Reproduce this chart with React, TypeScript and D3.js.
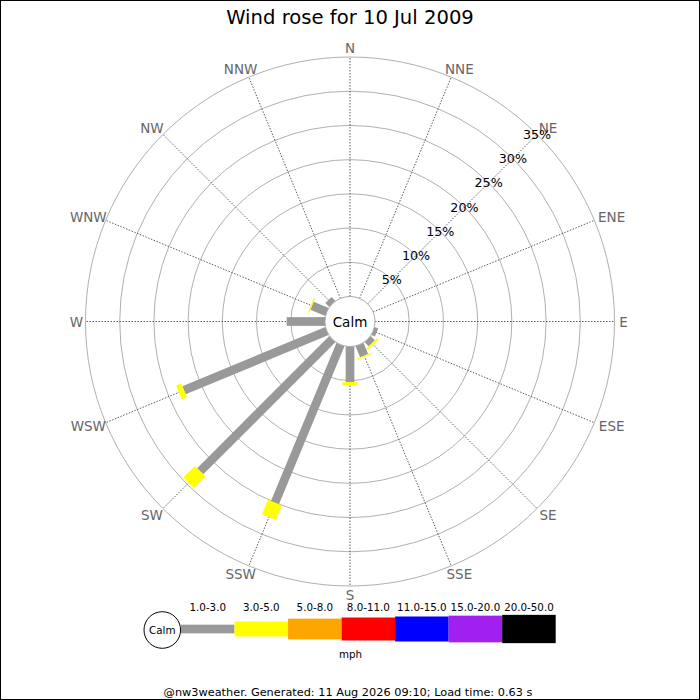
import React from "react";
import * as d3 from "d3";

const directions = ["N","NNE","NE","ENE","E","ESE","SE","SSE","S","SSW","SW","WSW","W","WNW","NW","NNW"];
// percentage of time per direction, by speed range
const range1to3 = [0,0,0,0,0,0.55,0.85,1.75,5.2,25.0,27.3,22.6,5.6,2.35,0.8,0];
const range3to5 = [0,0,0,0,0,0,0.3,0.2,0.5,2.3,2.4,0.8,0,0.2,0,0];
const seriesValues = [range1to3, range3to5];
const ringTicks = [5,10,15,20,25,30,35];
const legendRanges = ["1.0-3.0","3.0-5.0","5.0-8.0","8.0-11.0","11.0-15.0","15.0-20.0","20.0-50.0"];
const legendColors = ["#999999","#ffff00","#ffa500","#ff0000","#0000ff","#a020f0","#000000"];
const title = "Wind rose for 10 Jul 2009";
const footer = "@nw3weather. Generated: 11 Aug 2026 09:10; Load time: 0.63 s";

const W = 700, H = 700;
const cx = 350, cy = 321.5;
const calmR = 25;
const barWidths = [8.7, 15, 20.7, 23, 25, 26.7, 28.3];
const font = "'DejaVu Sans', sans-serif";

export default function App() {
  const r = d3.scaleLinear().domain([0, 35]).range([calmR, 264.5]);
  const angle = d3.scaleLinear().domain([0, directions.length]).range([0, 360]);
  const rad = (deg: number) => (deg * Math.PI) / 180;

  const bars: React.ReactNode[] = [];
  directions.forEach((d, i) => {
    let cum = 0;
    seriesValues.forEach((s, k) => {
      const v = s[i];
      if (v > 0) {
        const r0 = r(cum), r1 = r(cum + v);
        bars.push(
          <g key={`b-${i}-${k}`} transform={`translate(${cx},${cy}) rotate(${angle(i)})`}>
            <rect x={-barWidths[k] / 2} y={-r1} width={barWidths[k]} height={r1 - r0} fill={legendColors[k]} />
          </g>
        );
      }
      cum += v;
    });
  });

  const legX = d3.scaleBand().domain(legendRanges).range([181, 555.7]);
  const legY = 629;

  return (
    <svg width={W} height={H} style={{ position: "absolute", left: 0, top: 0, fontFamily: font }}>
      <rect x={0.5} y={0.5} width={W - 1} height={H - 1} fill="#fff" stroke="#000" />
      <text x={350} y={17} textAnchor="middle" dominantBaseline="central" fontSize={19.6} fill="#000">{title}</text>

      {ringTicks.map(t => (
        <circle key={`ring-${t}`} cx={cx} cy={cy} r={r(t)} fill="none" stroke="#b0b0b0" strokeWidth={1} />
      ))}
      {directions.map((d, i) => {
        const a = rad(angle(i));
        return (
          <line key={`sp-${d}`} x1={cx + Math.sin(a) * calmR} y1={cy - Math.cos(a) * calmR}
            x2={cx + Math.sin(a) * r(35)} y2={cy - Math.cos(a) * r(35)}
            stroke="#333" strokeWidth={0.8} strokeDasharray="1.5,1.5" />
        );
      })}
      {directions.map((d, i) => {
        const a = rad(angle(i));
        const s = Math.sin(a);
        const extra = d.length === 1 ? 0 : (d.length === 3 && Math.abs(s) > 0.9 ? 9 : 4.7);
        const x = cx + s * 273.5 + Math.sign(Math.round(s * 1000)) * extra;
        const y = cy - Math.cos(a) * 273.5;
        return (
          <text key={`lab-${d}`} x={x} y={y}
            textAnchor="middle" dominantBaseline="central" fontSize={13.5} fill="#666">{d}</text>
        );
      })}

      {bars}

      <circle cx={cx} cy={cy} r={calmR} fill="#fff" stroke="#aaa" strokeWidth={1} />
      <text x={cx} y={cy} textAnchor="middle" dominantBaseline="central" fontSize={13.5} fill="#000">Calm</text>

      {ringTicks.map(t => {
        const a = rad(45);
        return (
          <text key={`pct-${t}`} x={cx + Math.sin(a) * r(t)} y={cy - Math.cos(a) * r(t)}
            textAnchor="middle" dominantBaseline="central" fontSize={12.7} fill="#000">{`${t}%`}</text>
        );
      })}

      {/* legend */}
      <circle cx={162.3} cy={630} r={18.3} fill="#fff" stroke="#000" strokeWidth={1} />
      <text x={162.3} y={630} textAnchor="middle" dominantBaseline="central" fontSize={10.4} fill="#000">Calm</text>
      {legendRanges.map((lab, k) => (
        <g key={`leg-${lab}`}>
          <rect x={legX(lab)!} y={legY - barWidths[k] / 2} width={legX.bandwidth()} height={barWidths[k]} fill={legendColors[k]} />
          <text x={legX(lab)! + legX.bandwidth() / 2} y={607} textAnchor="middle" dominantBaseline="central" fontSize={10.3} fill="#000">{lab}</text>
        </g>
      ))}
      <text x={350.5} y={654} textAnchor="middle" dominantBaseline="central" fontSize={10.3} fill="#000">mph</text>
      <text x={348} y={692} textAnchor="middle" dominantBaseline="central" fontSize={11.3} fill="#000">{footer}</text>
    </svg>
  );
}
